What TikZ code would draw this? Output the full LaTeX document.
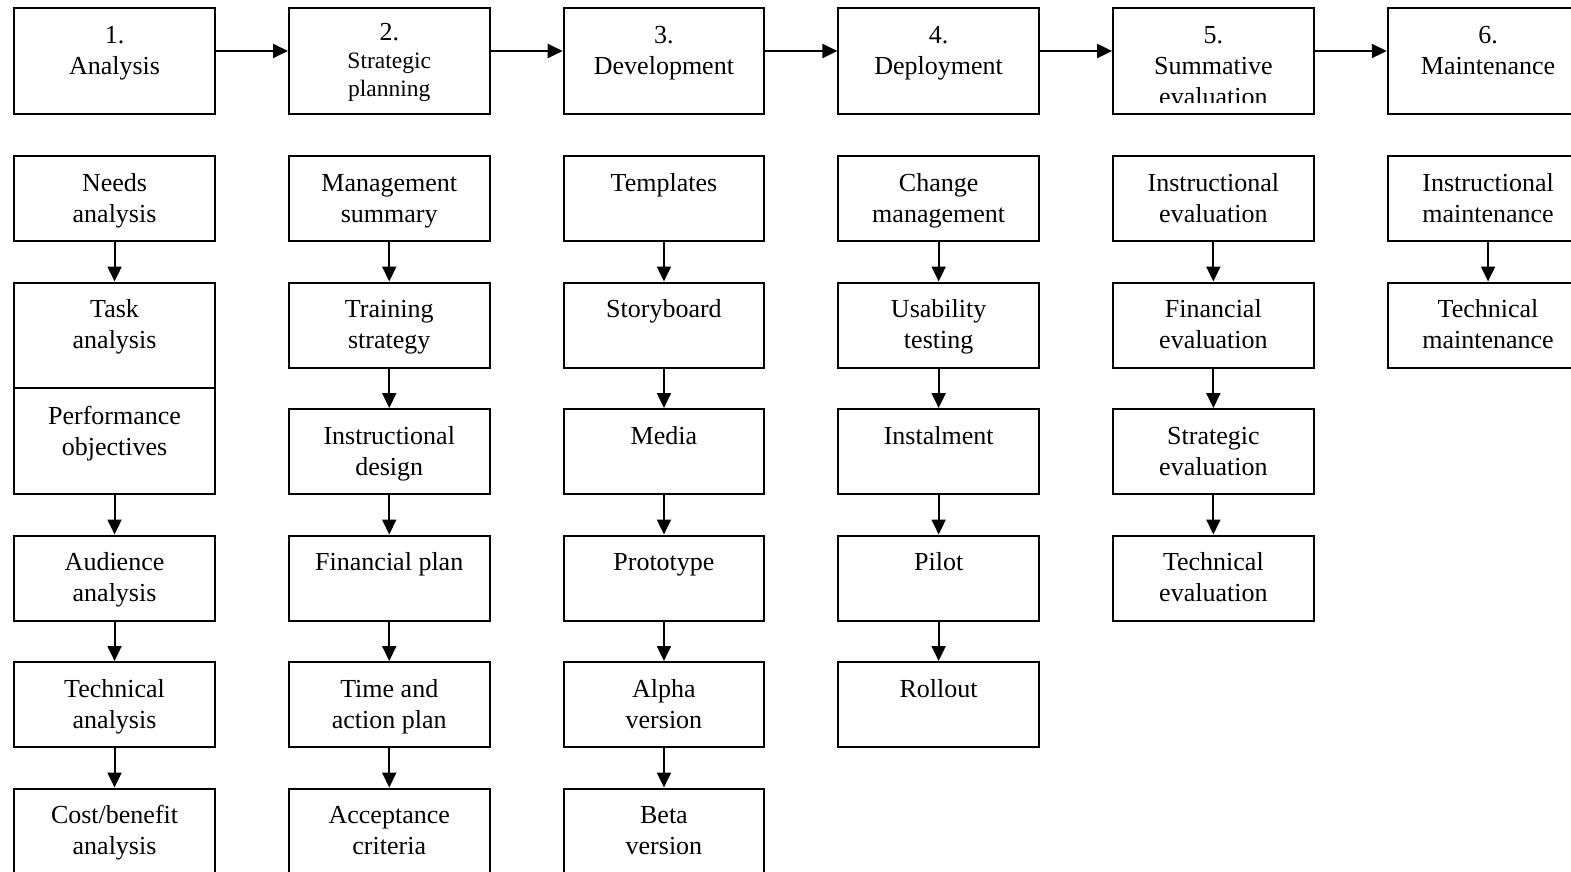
\documentclass[tikz,border=0pt]{standalone}
\usepackage{fontspec}
\setmainfont{Liberation Serif}
\usetikzlibrary{arrows.meta}
\newcommand\mkbox[4]{%
  \node[box] (#1) at (#2,#3) {};
  \node[txt] (#1t) at ([yshift=-12pt]#1.north) {\rule{0pt}{24pt}#4};}
\begin{document}
\begin{tikzpicture}[x=1pt,y=-1pt,
  box/.style={draw, line width=2pt, minimum width=200.5pt, minimum height=85pt, anchor=north west, inner sep=0pt},
  hbox/.style={box, minimum height=106pt},
  txt/.style={anchor=north, inner sep=0pt, align=center, font=\fontsize{26}{31}\selectfont},
  stxt/.style={txt, font=\fontsize{23.5}{28.3}\selectfont},
  conn/.style={line width=2pt, -{Triangle[length=15pt,width=14pt]}}]
\useasboundingbox (0,0) rectangle (1571,872);
\clip (0,0) rectangle (1571,872);
% headers
\node[hbox] (h1) at (13.3,7.3) {};
\node[txt] (h1t) at ([yshift=-12pt]h1.north) {\rule{0pt}{24pt}1.\\Analysis};
\node[hbox] (h2) at (288,7.3) {};
\node[stxt] (h2t) at ([yshift=-8.7pt]h2.north) {\rule{0pt}{24pt}{\fontsize{26}{31}\selectfont 2.}\\Strategic\\planning};
\node[hbox] (h3) at (562.7,7.3) {};
\node[txt] (h3t) at ([yshift=-12pt]h3.north) {\rule{0pt}{24pt}3.\\Development};
\node[hbox] (h4) at (837.4,7.3) {};
\node[txt] (h4t) at ([yshift=-12pt]h4.north) {\rule{0pt}{24pt}4.\\Deployment};
\node[hbox] (h5) at (1112.1,7.3) {};
\begin{scope}
\clip (1113,8) rectangle (1312,102.7);
\node[txt] (h5t) at ([yshift=-12pt]h5.north) {\rule{0pt}{24pt}5.\\Summative\\evaluation};
\end{scope}
\node[hbox] (h6) at (1386.8,7.3) {};
\node[txt] (h6t) at ([yshift=-12pt]h6.north) {\rule{0pt}{24pt}6.\\Maintenance};
\foreach \i/\j in {1/2,2/3,3/4,4/5,5/6}
  \draw[conn] ([yshift=10.3pt]h\i.east) -- ([yshift=10.3pt]h\j.west);
% column 1
\mkbox{a1}{13.3}{155}{Needs\\analysis}
\node[box, minimum height=211pt] (a2) at (13.3,281.5) {};
\draw[line width=2pt] (a2.west) -- (a2.east);
\node[txt] (a2t) at ([yshift=-12pt]a2.north) {\rule{0pt}{24pt}Task\\analysis};
\node[txt] (a2u) at ([yshift=-12pt]a2.center) {\rule{0pt}{24pt}Performance\\objectives};
\mkbox{a4}{13.3}{534.5}{Audience\\analysis}
\mkbox{a5}{13.3}{661}{Technical\\analysis}
\mkbox{a6}{13.3}{787.5}{Cost/benefit\\analysis}
\draw[conn] (a1.south) -- (a2.north);
\draw[conn] (a2.south) -- (a4.north);
\draw[conn] (a4.south) -- (a5.north);
\draw[conn] (a5.south) -- (a6.north);
% column 2
\mkbox{b1}{288}{155}{Management\\summary}
\mkbox{b2}{288}{281.5}{Training\\strategy}
\mkbox{b3}{288}{408}{Instructional\\design}
\mkbox{b4}{288}{534.5}{Financial plan}
\mkbox{b5}{288}{661}{Time and\\action plan}
\mkbox{b6}{288}{787.5}{Acceptance\\criteria}
% column 3
\mkbox{c1}{562.7}{155}{Templates}
\mkbox{c2}{562.7}{281.5}{Storyboard}
\mkbox{c3}{562.7}{408}{Media}
\mkbox{c4}{562.7}{534.5}{Prototype}
\mkbox{c5}{562.7}{661}{Alpha\\version}
\mkbox{c6}{562.7}{787.5}{Beta\\version}
\foreach \c in {b,c}
  \foreach \i/\j in {1/2,2/3,3/4,4/5,5/6}
    \draw[conn] (\c\i.south) -- (\c\j.north);
% column 4
\mkbox{d1}{837.4}{155}{Change\\management}
\mkbox{d2}{837.4}{281.5}{Usability\\testing}
\mkbox{d3}{837.4}{408}{Instalment}
\mkbox{d4}{837.4}{534.5}{Pilot}
\mkbox{d5}{837.4}{661}{Rollout}
\foreach \i/\j in {1/2,2/3,3/4,4/5}
  \draw[conn] (d\i.south) -- (d\j.north);
% column 5
\mkbox{e1}{1112.1}{155}{Instructional\\evaluation}
\mkbox{e2}{1112.1}{281.5}{Financial\\evaluation}
\mkbox{e3}{1112.1}{408}{Strategic\\evaluation}
\mkbox{e4}{1112.1}{534.5}{Technical\\evaluation}
\foreach \i/\j in {1/2,2/3,3/4}
  \draw[conn] (e\i.south) -- (e\j.north);
% column 6
\mkbox{f1}{1386.8}{155}{Instructional\\maintenance}
\mkbox{f2}{1386.8}{281.5}{Technical\\maintenance}
\draw[conn] (f1.south) -- (f2.north);
\end{tikzpicture}
\end{document}
